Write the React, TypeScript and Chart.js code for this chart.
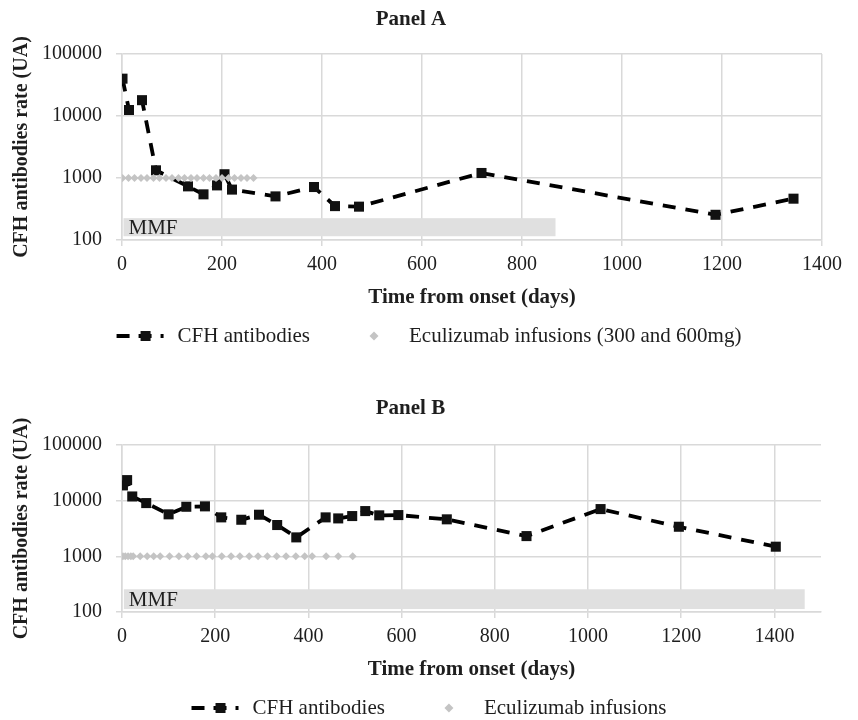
import React, { useEffect, useRef } from "react";
import { Chart, registerables } from "chart.js";

Chart.register(...registerables);

// ---------------- Data ----------------
const xTickValues = [0, 200, 400, 600, 800, 1000, 1200, 1400];
const yTickValues = [100, 1000, 10000, 100000];
const eculizumabLevel = 1000;

const cfhLabel = "CFH antibodies";
const mmfLabel = "MMF";
const xTitle = "Time from onset (days)";
const yTitle = "CFH antibodies rate (UA)";

// Panel A
const panelATitle = "Panel A";
const panelAEcuLabel = "Eculizumab infusions (300 and 600mg)";
const panelADays = [1, 14, 40, 68, 132, 163, 190, 205, 220, 307, 384, 426, 474, 719, 1187, 1343];
const panelACfh = [40000, 12500, 18000, 1330, 733, 545, 760, 1150, 650, 505, 715, 352, 345, 1205, 255, 464];
const panelAEcuDays = [1, 13, 25, 38, 50, 63, 75, 88, 100, 113, 125, 138, 150, 163, 175, 188, 200, 213, 225, 238, 250, 263];
const panelAMmfDays = [3, 867];
const panelAMmfBand = [115, 225];
const panelAXMax = 1400;

// Panel B
const panelBTitle = "Panel B";
const panelBEcuLabel = "Eculizumab infusions";
const panelBDays = [2, 11, 22, 52, 100, 138, 178, 213, 256, 294, 333, 374, 437, 464, 494, 522, 552, 593, 697, 868, 1027, 1195, 1403];
const panelBCfh = [18800, 23400, 11900, 9050, 5680, 7770, 7900, 5010, 4540, 5590, 3650, 2190, 5010, 4800, 5290, 6500, 5450, 5510, 4620, 2310, 7060, 3400, 1490];
const panelBEcuDays = [2, 7, 13, 19, 24, 39, 54, 68, 82, 102, 122, 141, 160, 180, 194, 214, 234, 253, 273, 292, 312, 332, 352, 373, 392, 408, 438, 464, 495];
const panelBMmfDays = [4, 1465];
const panelBMmfBand = [113, 256];
const panelBXMax = 1500;

// ---------------- Styles ----------------
const FAMILY = '"Liberation Serif", "Times New Roman", serif';
const TEXT = "#1e1e1e";
const GRID = "#d9d9d9";
const MARKER = "#111111";
const ECU = "#c4c4c4";
const MMF_FILL = "#e0e0e0";

const mmfPlugin = {
  id: "mmfBar",
  beforeDatasetsDraw(chart: any, _args: any, opts: any) {
    const { ctx } = chart;
    const x = chart.scales.x;
    const y = chart.scales.y;
    const left = x.getPixelForValue(opts.days[0]);
    const right = x.getPixelForValue(opts.days[1]);
    const top = y.getPixelForValue(opts.band[1]);
    const bottom = y.getPixelForValue(opts.band[0]);
    ctx.save();
    ctx.fillStyle = MMF_FILL;
    ctx.fillRect(left, top, right - left, bottom - top);
    ctx.fillStyle = TEXT;
    ctx.font = `21px ${FAMILY}`;
    ctx.textBaseline = "middle";
    ctx.textAlign = "left";
    ctx.fillText(opts.label, left + 5, (top + bottom) / 2 + 1);
    ctx.restore();
  },
};

const legendPlugin = {
  id: "seriesLegend",
  afterDraw(chart: any, _args: any, opts: any) {
    const { ctx } = chart;
    const ecuText = chart.data.datasets[0].label;
    const cfhText = chart.data.datasets[1].label;
    ctx.save();
    ctx.font = `21px ${FAMILY}`;
    const w1 = ctx.measureText(cfhText).width;
    const w2 = ctx.measureText(ecuText).width;
    const symbolW = 47;
    const gapText = 14;
    const gapItems = 64;
    const diamondToText = 35;
    const total = symbolW + gapText + w1 + gapItems + diamondToText + w2;
    const x0 = chart.width / 2 - total / 2;
    const y = opts.y;
    ctx.strokeStyle = "#000";
    ctx.lineWidth = 3.8;
    ctx.setLineDash([13, 9]);
    ctx.beginPath();
    ctx.moveTo(x0, y);
    ctx.lineTo(x0 + symbolW, y);
    ctx.stroke();
    ctx.setLineDash([]);
    ctx.fillStyle = MARKER;
    ctx.fillRect(x0 + 24, y - 5, 10, 10);
    ctx.fillStyle = TEXT;
    ctx.textBaseline = "middle";
    ctx.textAlign = "left";
    ctx.fillText(cfhText, x0 + symbolW + gapText, y);
    const dx = x0 + symbolW + gapText + w1 + gapItems;
    ctx.fillStyle = ECU;
    ctx.beginPath();
    ctx.moveTo(dx - 4.5, y);
    ctx.lineTo(dx, y - 4.5);
    ctx.lineTo(dx + 4.5, y);
    ctx.lineTo(dx, y + 4.5);
    ctx.closePath();
    ctx.fill();
    ctx.fillStyle = TEXT;
    ctx.fillText(ecuText, dx + diamondToText, y);
    ctx.restore();
  },
};

type PanelProps = {
  top: number;
  height: number;
  title: string;
  titleBottom: number;
  days: number[];
  cfh: number[];
  ecuDays: number[];
  ecuLabel: string;
  mmfDays: number[];
  mmfBand: number[];
  xMax: number;
  padRight: number;
  padBottom: number;
  legendY: number;
};

function Panel(p: PanelProps) {
  const ref = useRef<HTMLCanvasElement>(null);
  useEffect(() => {
    const tickFont = { family: FAMILY, size: 20 };
    const chart = new Chart(ref.current as HTMLCanvasElement, {
      type: "line",
      data: {
        datasets: [
          {
            label: p.ecuLabel,
            data: p.ecuDays.map((d) => ({ x: d, y: eculizumabLevel })),
            showLine: false,
            pointStyle: "rectRot",
            pointRadius: 4,
            pointBackgroundColor: ECU,
            pointBorderColor: ECU,
            pointBorderWidth: 0,
            borderWidth: 0,
            order: 1,
          },
          {
            label: cfhLabel,
            data: p.days.map((d, i) => ({ x: d, y: p.cfh[i] })),
            borderColor: "#000",
            borderWidth: 3.8,
            borderDash: [13, 10],
            tension: 0,
            pointStyle: "rect",
            pointRadius: 7.1,
            pointBackgroundColor: MARKER,
            pointBorderColor: MARKER,
            pointBorderWidth: 0,
            order: 2,
          },
        ],
      } as any,
      options: {
        animation: false,
        responsive: false,
        events: [],
        layout: { padding: { left: 0, right: p.padRight, top: 0, bottom: p.padBottom } },
        plugins: {
          legend: { display: false },
          tooltip: { enabled: false },
          title: {
            display: true,
            text: p.title,
            color: TEXT,
            font: { family: FAMILY, size: 21, weight: "bold" },
            padding: { top: 7, bottom: p.titleBottom },
          },
          mmfBar: { days: p.mmfDays, band: p.mmfBand, label: mmfLabel },
          seriesLegend: { y: p.legendY },
        } as any,
        scales: {
          x: {
            type: "linear",
            min: 0,
            max: p.xMax,
            afterBuildTicks: (s: any) => {
              s.ticks = xTickValues.map((v) => ({ value: v }));
            },
            afterFit: (s: any) => {
              s.height = 74;
            },
            grid: { color: GRID, lineWidth: 1.5, tickLength: 6, drawTicks: true },
            border: { display: true, color: GRID, width: 1.5 },
            ticks: {
              color: TEXT,
              font: tickFont,
              padding: 7,
              maxRotation: 0,
              autoSkip: false,
              callback: (v: any) => String(v),
            },
            title: {
              display: true,
              text: xTitle,
              color: TEXT,
              font: { family: FAMILY, size: 21, weight: "bold" },
              padding: { top: 0, bottom: 4 },
            },
          },
          y: {
            type: "logarithmic",
            min: 100,
            max: 100000,
            afterBuildTicks: (s: any) => {
              s.ticks = yTickValues.map((v) => ({ value: v }));
            },
            afterFit: (s: any) => {
              s.width = 122;
            },
            grid: { color: GRID, lineWidth: 1.5, tickLength: 6, drawTicks: true },
            border: { display: true, color: GRID, width: 1.5 },
            ticks: {
              color: TEXT,
              font: tickFont,
              padding: 14,
              autoSkip: false,
              callback: (v: any) => String(v),
            },
            title: {
              display: true,
              text: yTitle,
              color: TEXT,
              font: { family: FAMILY, size: 20, weight: "bold" },
              padding: { top: 10, bottom: 0 },
            },
          },
        } as any,
      },
      plugins: [mmfPlugin, legendPlugin],
    });
    return () => chart.destroy();
  }, []);
  return (
    <canvas
      ref={ref}
      width={858}
      height={p.height}
      style={{ position: "absolute", left: 0, top: p.top, width: 858, height: p.height }}
    />
  );
}

export default function App() {
  return (
    <div style={{ position: "absolute", left: 0, top: 0, width: 858, height: 720, background: "#fff" }}>
      <Panel
        top={0}
        height={360}
        title={panelATitle}
        titleBottom={21.8}
        days={panelADays}
        cfh={panelACfh}
        ecuDays={panelAEcuDays}
        ecuLabel={panelAEcuLabel}
        mmfDays={panelAMmfDays}
        mmfBand={panelAMmfBand}
        xMax={panelAXMax}
        padRight={36}
        padBottom={46}
        legendY={336}
      />
      <Panel
        top={389}
        height={331}
        title={panelBTitle}
        titleBottom={23.8}
        days={panelBDays}
        cfh={panelBCfh}
        ecuDays={panelBEcuDays}
        ecuLabel={panelBEcuLabel}
        mmfDays={panelBMmfDays}
        mmfBand={panelBMmfBand}
        xMax={panelBXMax}
        padRight={37}
        padBottom={34}
        legendY={319}
      />
    </div>
  );
}
